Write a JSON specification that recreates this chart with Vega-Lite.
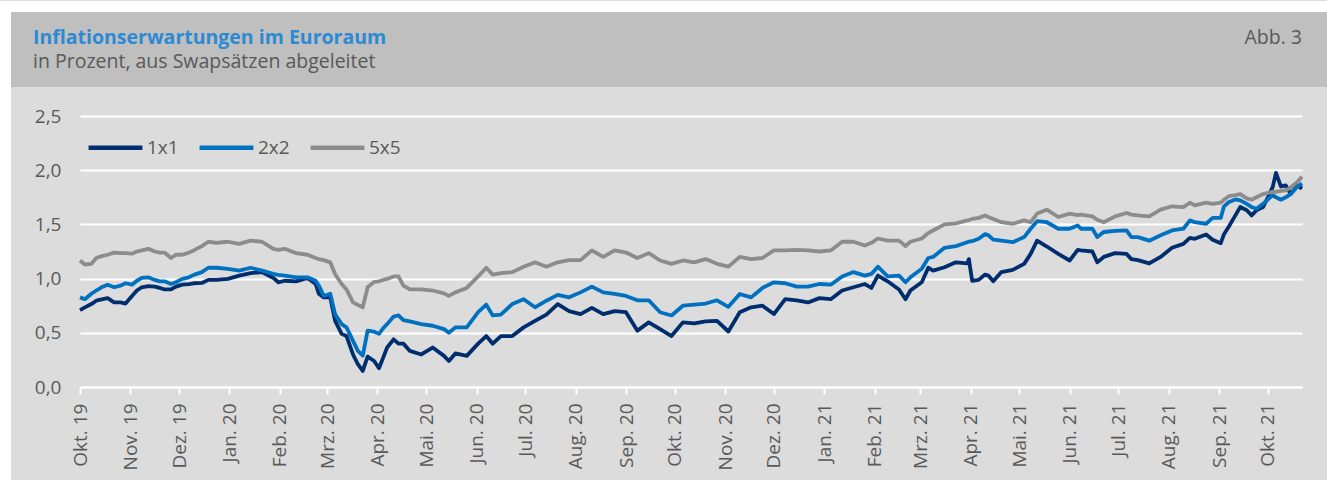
{
  "$schema": "https://vega.github.io/schema/vega-lite/v6.json",
  "background": "#dcdcdc",
  "padding": 0,
  "spacing": 0,
  "config": {
    "view": {"stroke": null},
    "font": "Open Sans",
    "locale": {
      "number": {"decimal": ",", "thousands": ".", "grouping": [3], "currency": ["", " €"]},
      "time": {
        "dateTime": "%A, der %e. %B %Y, %X",
        "date": "%d.%m.%Y",
        "time": "%H:%M:%S",
        "periods": ["AM", "PM"],
        "days": ["Sonntag", "Montag", "Dienstag", "Mittwoch", "Donnerstag", "Freitag", "Samstag"],
        "shortDays": ["So", "Mo", "Di", "Mi", "Do", "Fr", "Sa"],
        "months": ["Januar", "Februar", "März", "April", "Mai", "Juni", "Juli", "August", "September", "Oktober", "November", "Dezember"],
        "shortMonths": ["Jan.", "Feb.", "Mrz.", "Apr.", "Mai.", "Jun.", "Jul.", "Aug.", "Sep.", "Okt.", "Nov.", "Dez."]
      }
    }
  },
  "vconcat": [
    {
      "width": 1327, "height": 11,
      "view": {"fill": "#ffffff", "stroke": null},
      "data": {"values": [{}]},
      "mark": "text",
      "encoding": {"text": {"value": ""}}
    },
    {
      "spacing": 0,
      "hconcat": [
        {
          "width": 11, "height": 469,
          "view": {"fill": "#ffffff", "stroke": null},
          "data": {"values": [{}]},
          "mark": "text",
          "encoding": {"text": {"value": ""}}
        },
        {
          "spacing": 0,
          "vconcat": [
            {
              "spacing": 0,
              "hconcat": [
                {
                  "width": 1200, "height": 75,
                  "view": {"fill": "#bfbfbf", "stroke": null},
                  "title": {
                    "text": "Inflationserwartungen im Euroraum",
                    "subtitle": "in Prozent, aus Swapsätzen abgeleitet",
                    "anchor": "start", "frame": "group", "orient": "top",
                    "offset": -60, "dx": 22,
                    "font": "Open Sans", "fontSize": 19.5, "fontWeight": "bold", "color": "#2b8ad3",
                    "subtitleFont": "Open Sans", "subtitleFontSize": 19.5, "subtitleColor": "#595959", "subtitlePadding": 4
                  },
                  "data": {"values": [{}]},
                  "mark": "text",
                  "encoding": {"text": {"value": ""}}
                },
                {
                  "width": 116, "height": 75,
                  "view": {"fill": "#bfbfbf", "stroke": null},
                  "title": {
                    "text": "Abb. 3",
                    "anchor": "end", "frame": "group", "orient": "top",
                    "offset": -36, "dx": -25,
                    "font": "Open Sans", "fontSize": 19.5, "fontWeight": "normal", "color": "#595959"
                  },
                  "data": {"values": [{}]},
                  "mark": "text",
                  "encoding": {"text": {"value": ""}}
                }
              ]
            },
            {
              "width": 1316, "height": 394,
              "view": {"fill": "#dcdcdc", "stroke": null},
              "data": {"values": [
                {"d":"2019-10-01","1x1":0.71,"2x2":0.827,"5x5":1.167},
                {"d":"2019-10-04","1x1":0.735,"2x2":0.81,"5x5":1.13},
                {"d":"2019-10-08","1x1":0.765,"2x2":0.86,"5x5":1.136},
                {"d":"2019-10-11","1x1":0.796,"2x2":0.89,"5x5":1.19},
                {"d":"2019-10-15","1x1":0.81,"2x2":0.925,"5x5":1.21},
                {"d":"2019-10-18","1x1":0.82,"2x2":0.944,"5x5":1.22},
                {"d":"2019-10-22","1x1":0.78,"2x2":0.92,"5x5":1.24},
                {"d":"2019-10-26","1x1":0.78,"2x2":0.935,"5x5":1.235},
                {"d":"2019-10-29","1x1":0.77,"2x2":0.957,"5x5":1.235},
                {"d":"2019-11-02","1x1":0.84,"2x2":0.944,"5x5":1.23},
                {"d":"2019-11-05","1x1":0.89,"2x2":0.98,"5x5":1.25},
                {"d":"2019-11-08","1x1":0.92,"2x2":1.006,"5x5":1.26},
                {"d":"2019-11-12","1x1":0.93,"2x2":1.012,"5x5":1.275},
                {"d":"2019-11-16","1x1":0.926,"2x2":0.988,"5x5":1.25},
                {"d":"2019-11-19","1x1":0.914,"2x2":0.975,"5x5":1.24},
                {"d":"2019-11-22","1x1":0.9,"2x2":0.975,"5x5":1.24},
                {"d":"2019-11-26","1x1":0.9,"2x2":0.95,"5x5":1.19},
                {"d":"2019-11-29","1x1":0.926,"2x2":0.966,"5x5":1.22},
                {"d":"2019-12-03","1x1":0.944,"2x2":0.997,"5x5":1.22},
                {"d":"2019-12-07","1x1":0.95,"2x2":1.012,"5x5":1.24},
                {"d":"2019-12-10","1x1":0.957,"2x2":1.034,"5x5":1.26},
                {"d":"2019-12-15","1x1":0.96,"2x2":1.06,"5x5":1.3},
                {"d":"2019-12-19","1x1":0.988,"2x2":1.1,"5x5":1.34},
                {"d":"2019-12-24","1x1":0.988,"2x2":1.1,"5x5":1.33},
                {"d":"2019-12-31","1x1":0.997,"2x2":1.09,"5x5":1.34},
                {"d":"2020-01-07","1x1":1.028,"2x2":1.074,"5x5":1.32},
                {"d":"2020-01-14","1x1":1.05,"2x2":1.1,"5x5":1.35},
                {"d":"2020-01-21","1x1":1.06,"2x2":1.074,"5x5":1.34},
                {"d":"2020-01-28","1x1":1.006,"2x2":1.043,"5x5":1.275},
                {"d":"2020-01-31","1x1":0.966,"2x2":1.035,"5x5":1.265},
                {"d":"2020-02-04","1x1":0.98,"2x2":1.028,"5x5":1.275},
                {"d":"2020-02-11","1x1":0.975,"2x2":1.012,"5x5":1.235},
                {"d":"2020-02-18","1x1":1.006,"2x2":1.012,"5x5":1.22},
                {"d":"2020-02-23","1x1":0.95,"2x2":0.98,"5x5":1.19},
                {"d":"2020-02-25","1x1":0.86,"2x2":0.935,"5x5":1.18},
                {"d":"2020-02-28","1x1":0.827,"2x2":0.84,"5x5":1.17},
                {"d":"2020-03-03","1x1":0.827,"2x2":0.86,"5x5":1.15},
                {"d":"2020-03-06","1x1":0.61,"2x2":0.67,"5x5":1.04},
                {"d":"2020-03-10","1x1":0.49,"2x2":0.58,"5x5":0.95},
                {"d":"2020-03-13","1x1":0.47,"2x2":0.55,"5x5":0.9},
                {"d":"2020-03-17","1x1":0.3,"2x2":0.426,"5x5":0.78},
                {"d":"2020-03-20","1x1":0.21,"2x2":0.333,"5x5":0.756},
                {"d":"2020-03-23","1x1":0.148,"2x2":0.29,"5x5":0.735},
                {"d":"2020-03-26","1x1":0.28,"2x2":0.52,"5x5":0.92},
                {"d":"2020-03-30","1x1":0.24,"2x2":0.51,"5x5":0.97},
                {"d":"2020-04-02","1x1":0.173,"2x2":0.49,"5x5":0.975},
                {"d":"2020-04-05","1x1":0.287,"2x2":0.55,"5x5":0.99},
                {"d":"2020-04-07","1x1":0.364,"2x2":0.58,"5x5":0.997},
                {"d":"2020-04-11","1x1":0.44,"2x2":0.65,"5x5":1.02},
                {"d":"2020-04-14","1x1":0.4,"2x2":0.66,"5x5":1.02},
                {"d":"2020-04-17","1x1":0.4,"2x2":0.617,"5x5":0.935},
                {"d":"2020-04-21","1x1":0.333,"2x2":0.605,"5x5":0.9},
                {"d":"2020-04-28","1x1":0.3,"2x2":0.58,"5x5":0.9},
                {"d":"2020-05-05","1x1":0.364,"2x2":0.565,"5x5":0.89},
                {"d":"2020-05-12","1x1":0.287,"2x2":0.534,"5x5":0.864},
                {"d":"2020-05-15","1x1":0.24,"2x2":0.5,"5x5":0.84},
                {"d":"2020-05-19","1x1":0.31,"2x2":0.55,"5x5":0.873},
                {"d":"2020-05-26","1x1":0.287,"2x2":0.55,"5x5":0.914},
                {"d":"2020-06-02","1x1":0.4,"2x2":0.69,"5x5":1.02},
                {"d":"2020-06-07","1x1":0.47,"2x2":0.76,"5x5":1.1},
                {"d":"2020-06-11","1x1":0.4,"2x2":0.66,"5x5":1.037},
                {"d":"2020-06-16","1x1":0.47,"2x2":0.667,"5x5":1.05},
                {"d":"2020-06-23","1x1":0.47,"2x2":0.765,"5x5":1.06},
                {"d":"2020-06-30","1x1":0.55,"2x2":0.81,"5x5":1.11},
                {"d":"2020-07-07","1x1":0.61,"2x2":0.735,"5x5":1.15},
                {"d":"2020-07-14","1x1":0.667,"2x2":0.796,"5x5":1.11},
                {"d":"2020-07-21","1x1":0.765,"2x2":0.85,"5x5":1.15},
                {"d":"2020-07-28","1x1":0.7,"2x2":0.827,"5x5":1.17},
                {"d":"2020-08-04","1x1":0.673,"2x2":0.873,"5x5":1.17},
                {"d":"2020-08-11","1x1":0.73,"2x2":0.926,"5x5":1.26},
                {"d":"2020-08-18","1x1":0.673,"2x2":0.873,"5x5":1.2},
                {"d":"2020-08-25","1x1":0.7,"2x2":0.86,"5x5":1.26},
                {"d":"2020-09-01","1x1":0.69,"2x2":0.84,"5x5":1.24},
                {"d":"2020-09-08","1x1":0.52,"2x2":0.8,"5x5":1.19},
                {"d":"2020-09-15","1x1":0.596,"2x2":0.8,"5x5":1.235},
                {"d":"2020-09-22","1x1":0.534,"2x2":0.69,"5x5":1.167},
                {"d":"2020-09-29","1x1":0.47,"2x2":0.66,"5x5":1.136},
                {"d":"2020-10-06","1x1":0.596,"2x2":0.75,"5x5":1.167},
                {"d":"2020-10-13","1x1":0.586,"2x2":0.76,"5x5":1.15},
                {"d":"2020-10-20","1x1":0.605,"2x2":0.77,"5x5":1.18},
                {"d":"2020-10-27","1x1":0.61,"2x2":0.8,"5x5":1.136},
                {"d":"2020-11-03","1x1":0.512,"2x2":0.74,"5x5":1.11},
                {"d":"2020-11-10","1x1":0.69,"2x2":0.858,"5x5":1.2},
                {"d":"2020-11-17","1x1":0.735,"2x2":0.827,"5x5":1.18},
                {"d":"2020-11-24","1x1":0.75,"2x2":0.914,"5x5":1.19},
                {"d":"2020-12-01","1x1":0.673,"2x2":0.966,"5x5":1.26},
                {"d":"2020-12-08","1x1":0.81,"2x2":0.957,"5x5":1.26},
                {"d":"2020-12-15","1x1":0.8,"2x2":0.926,"5x5":1.265},
                {"d":"2020-12-22","1x1":0.78,"2x2":0.926,"5x5":1.26},
                {"d":"2020-12-29","1x1":0.82,"2x2":0.95,"5x5":1.25},
                {"d":"2021-01-05","1x1":0.81,"2x2":0.944,"5x5":1.26},
                {"d":"2021-01-12","1x1":0.89,"2x2":1.02,"5x5":1.34},
                {"d":"2021-01-19","1x1":0.92,"2x2":1.06,"5x5":1.34},
                {"d":"2021-01-26","1x1":0.95,"2x2":1.028,"5x5":1.305},
                {"d":"2021-01-30","1x1":0.914,"2x2":1.043,"5x5":1.33},
                {"d":"2021-02-03","1x1":1.028,"2x2":1.11,"5x5":1.37},
                {"d":"2021-02-09","1x1":0.975,"2x2":1.02,"5x5":1.35},
                {"d":"2021-02-16","1x1":0.9,"2x2":1.028,"5x5":1.35},
                {"d":"2021-02-20","1x1":0.81,"2x2":0.966,"5x5":1.3},
                {"d":"2021-02-23","1x1":0.89,"2x2":1.012,"5x5":1.34},
                {"d":"2021-03-02","1x1":0.966,"2x2":1.09,"5x5":1.37},
                {"d":"2021-03-06","1x1":1.1,"2x2":1.19,"5x5":1.42},
                {"d":"2021-03-09","1x1":1.074,"2x2":1.2,"5x5":1.444},
                {"d":"2021-03-16","1x1":1.105,"2x2":1.284,"5x5":1.5},
                {"d":"2021-03-23","1x1":1.15,"2x2":1.3,"5x5":1.51},
                {"d":"2021-03-30","1x1":1.14,"2x2":1.336,"5x5":1.537},
                {"d":"2021-03-31","1x1":1.18,"2x2":1.34,"5x5":1.54},
                {"d":"2021-04-02","1x1":0.98,"2x2":1.345,"5x5":1.55},
                {"d":"2021-04-06","1x1":0.988,"2x2":1.367,"5x5":1.56},
                {"d":"2021-04-10","1x1":1.037,"2x2":1.41,"5x5":1.583},
                {"d":"2021-04-12","1x1":1.028,"2x2":1.4,"5x5":1.568},
                {"d":"2021-04-15","1x1":0.975,"2x2":1.36,"5x5":1.55},
                {"d":"2021-04-20","1x1":1.06,"2x2":1.35,"5x5":1.52},
                {"d":"2021-04-27","1x1":1.08,"2x2":1.336,"5x5":1.506},
                {"d":"2021-05-04","1x1":1.136,"2x2":1.383,"5x5":1.537},
                {"d":"2021-05-08","1x1":1.228,"2x2":1.46,"5x5":1.52},
                {"d":"2021-05-12","1x1":1.35,"2x2":1.53,"5x5":1.6},
                {"d":"2021-05-18","1x1":1.296,"2x2":1.52,"5x5":1.636},
                {"d":"2021-05-25","1x1":1.228,"2x2":1.46,"5x5":1.568},
                {"d":"2021-06-01","1x1":1.167,"2x2":1.46,"5x5":1.6},
                {"d":"2021-06-06","1x1":1.265,"2x2":1.49,"5x5":1.585},
                {"d":"2021-06-08","1x1":1.26,"2x2":1.46,"5x5":1.59},
                {"d":"2021-06-15","1x1":1.25,"2x2":1.46,"5x5":1.574},
                {"d":"2021-06-18","1x1":1.15,"2x2":1.383,"5x5":1.543},
                {"d":"2021-06-22","1x1":1.2,"2x2":1.43,"5x5":1.52},
                {"d":"2021-06-29","1x1":1.235,"2x2":1.44,"5x5":1.574},
                {"d":"2021-07-06","1x1":1.228,"2x2":1.444,"5x5":1.605},
                {"d":"2021-07-09","1x1":1.18,"2x2":1.383,"5x5":1.59},
                {"d":"2021-07-13","1x1":1.17,"2x2":1.383,"5x5":1.583},
                {"d":"2021-07-20","1x1":1.14,"2x2":1.35,"5x5":1.574},
                {"d":"2021-07-27","1x1":1.2,"2x2":1.4,"5x5":1.636},
                {"d":"2021-08-03","1x1":1.284,"2x2":1.444,"5x5":1.667},
                {"d":"2021-08-10","1x1":1.32,"2x2":1.46,"5x5":1.66},
                {"d":"2021-08-14","1x1":1.376,"2x2":1.537,"5x5":1.7},
                {"d":"2021-08-17","1x1":1.367,"2x2":1.52,"5x5":1.676},
                {"d":"2021-08-24","1x1":1.407,"2x2":1.506,"5x5":1.7},
                {"d":"2021-08-28","1x1":1.358,"2x2":1.56,"5x5":1.69},
                {"d":"2021-09-02","1x1":1.327,"2x2":1.56,"5x5":1.7},
                {"d":"2021-09-04","1x1":1.41,"2x2":1.667,"5x5":1.728},
                {"d":"2021-09-07","1x1":1.48,"2x2":1.707,"5x5":1.76},
                {"d":"2021-09-11","1x1":1.583,"2x2":1.73,"5x5":1.77},
                {"d":"2021-09-14","1x1":1.66,"2x2":1.722,"5x5":1.78},
                {"d":"2021-09-18","1x1":1.63,"2x2":1.69,"5x5":1.74},
                {"d":"2021-09-21","1x1":1.583,"2x2":1.66,"5x5":1.728},
                {"d":"2021-09-24","1x1":1.63,"2x2":1.645,"5x5":1.75},
                {"d":"2021-09-28","1x1":1.66,"2x2":1.69,"5x5":1.78},
                {"d":"2021-10-01","1x1":1.75,"2x2":1.73,"5x5":1.79},
                {"d":"2021-10-04","1x1":1.846,"2x2":1.77,"5x5":1.8},
                {"d":"2021-10-06","1x1":1.975,"2x2":1.75,"5x5":1.8},
                {"d":"2021-10-09","1x1":1.85,"2x2":1.728,"5x5":1.81},
                {"d":"2021-10-12","1x1":1.86,"2x2":1.75,"5x5":1.815},
                {"d":"2021-10-15","1x1":1.78,"2x2":1.78,"5x5":1.84},
                {"d":"2021-10-19","1x1":1.86,"2x2":1.846,"5x5":1.89},
                {"d":"2021-10-22","1x1":1.83,"2x2":1.877,"5x5":1.94}
              ]},
              "transform": [{"fold": ["1x1", "2x2", "5x5"], "as": ["serie", "wert"]}],
              "mark": {"type": "line", "strokeWidth": 3.8, "strokeJoin": "round"},
              "encoding": {
                "x": {
                  "field": "d", "type": "temporal",
                  "scale": {"type": "utc", "nice": false, "range": [69, 1291], "domain": [{"year": 2019, "month": 10, "date": 1, "utc": true}, {"year": 2021, "month": 10, "date": 22, "utc": true}]},
                  "axis": {
                    "title": null, "format": "%b %y", "tickCount": {"interval": "month", "step": 1},
                    "offset": -94,
                    "labelAngle": -90, "labelAlign": "right", "labelBaseline": "middle",
                    "labelFont": "Open Sans", "labelFontSize": 19, "labelColor": "#595959",
                    "labelPadding": 9, "labelOverlap": false, "labelFlush": false, "labelBound": false,
                    "grid": false, "domain": true, "domainColor": "#ffffff", "domainWidth": 2,
                    "ticks": true, "tickColor": "#ffffff", "tickWidth": 2, "tickSize": 7
                  }
                },
                "y": {
                  "field": "wert", "type": "quantitative",
                  "scale": {"domain": [0, 2.5], "nice": false, "range": [300, 29]},
                  "axis": {
                    "title": null, "values": [0, 0.5, 1, 1.5, 2, 2.5], "format": ".1f",
                    "offset": -69,
                    "labelFont": "Open Sans", "labelFontSize": 19, "labelColor": "#595959",
                    "labelPadding": 19, "ticks": false, "domain": false,
                    "grid": true, "gridColor": "#ffffff", "gridWidth": 2
                  }
                },
                "color": {
                  "field": "serie", "type": "nominal",
                  "scale": {"domain": ["1x1", "2x2", "5x5"], "range": ["#002d6e", "#0070c0", "#8c8c8c"]},
                  "legend": {
                    "title": null, "orient": "none", "legendX": 86, "legendY": 117, "direction": "horizontal",
                    "symbolType": "M-1,0H1", "symbolSize": 2900, "symbolStrokeWidth": 4.5,
                    "labelFont": "Open Sans", "labelFontSize": 19, "labelColor": "#595959",
                    "labelOffset": 2, "columnPadding": 11, "padding": 0
                  }
                }
              }
            }
          ]
        }
      ]
    }
  ]
}
